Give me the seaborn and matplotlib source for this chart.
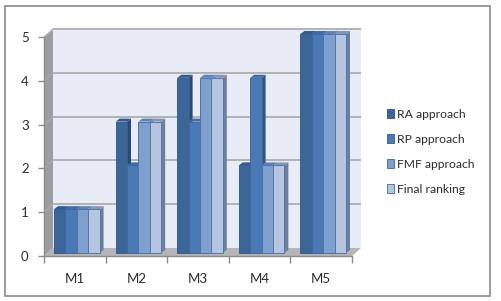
import numpy as np
import pandas as pd
import matplotlib
matplotlib.use("Agg")
import matplotlib.pyplot as plt
import seaborn as sns
from matplotlib.patches import Polygon, Rectangle
from matplotlib.transforms import Affine2D, IdentityTransform

models = ["M1", "M2", "M3", "M4", "M5"]
ra_approach = [1, 3, 4, 2, 5]
rp_approach = [1, 2, 3, 4, 5]
fmf_approach = [1, 3, 4, 2, 5]
final_ranking = [1, 3, 4, 2, 5]
series_names = ["RA approach", "RP approach", "FMF approach", "Final ranking"]

face_colors = ["#3C6698", "#4A7AB6", "#7F9FCE", "#B5C5E0"]
side_colors = ["#2A4A75", "#2F5485", "#50709E", "#6C7F9F"]
top_colors = ["#34598A", "#3F6CA3", "#5F82B5", "#8496B5"]
edge_colors = ["#3A6090", "#41699E", "#4C74A8", "#5279A8"]

df = pd.DataFrame({
    "model": models * 4,
    "series": np.repeat(series_names, 5),
    "value": ra_approach + rp_approach + fmf_approach + final_ranking,
})

sns.set_theme(style="white")
plt.rcParams["font.family"] = ["Lato", "DejaVu Sans"]

W, H = 502, 301
fig = plt.figure(figsize=(W / 100, H / 100), dpi=100, facecolor="white")
ax = fig.add_axes([44 / W, (H - 256) / H, 308 / W, 219 / H])

palette = dict(zip(series_names, face_colors))
sns.barplot(data=df, x="model", y="value", hue="series", order=models,
            hue_order=series_names, palette=palette, width=0.74, gap=0,
            saturation=1, ax=ax, legend=True, zorder=5)
ax.set_xlim(-0.5, 4.5)
ax.set_ylim(0, 5)
ax.set_xlabel("")
ax.set_ylabel("")
ax.set_facecolor("none")
for s in ax.spines.values():
    s.set_visible(False)

# outer frame
fig.add_artist(Rectangle((4.5 / W, (H - 296) / H), 485.5 / W, 290.5 / H,
                         transform=fig.transFigure, fill=False,
                         edgecolor="#8A8A8A", linewidth=1.2))

# 3D box: back wall, side wall, floor
DX, DY = 9, 8
ident = IdentityTransform()
back = ax.transAxes + Affine2D().translate(DX, DY)
ax.add_patch(Rectangle((0, 0), 1, 1, transform=back, facecolor="#E8ECF6",
                       edgecolor="none", zorder=1, clip_on=False))


def disp(x, y):
    return (x, H - y)


ax.add_patch(Polygon([disp(44, 37), disp(53, 30), disp(53, 248), disp(44, 256)],
                     closed=True, transform=ident, facecolor="#9A9EA3",
                     edgecolor="none", zorder=1.2, clip_on=False))
ax.add_patch(Polygon([disp(44, 256), disp(53, 248), disp(361, 248), disp(352, 256)],
                     closed=True, transform=ident, facecolor="#B4B5B7",
                     edgecolor="none", zorder=1.2, clip_on=False))
grid_back = ax.transData + Affine2D().translate(DX, DY)
for v in range(1, 6):
    ax.plot([-0.5, 4.5], [v, v], transform=grid_back, color="#B2B2B2", lw=1.4,
            clip_on=False, zorder=2, solid_capstyle="butt")
    y0 = ax.transData.transform((0, v))[1]
    x0 = ax.transData.transform((-0.5, 0))[0]
    ax.plot([x0, x0 + DX], [y0, y0 + DY], transform=ident, color="#A9ADB2",
            lw=0.9, clip_on=False, zorder=2)
ax.plot([disp(44, 256)[0], disp(44, 37)[0]], [disp(44, 256)[1], disp(44, 37)[1]],
        transform=ident, color="#8A8A8A", lw=1.0, zorder=3, clip_on=False)
ax.plot([disp(44, 256)[0], disp(352, 256)[0]], [disp(44, 256)[1], disp(352, 256)[1]],
        transform=ident, color="#8A8A8A", lw=1.0, zorder=3, clip_on=False)

# 3D bars
OX, OY = 2.0, 3.0
BX, BY = 4.0, 3.0
bar_trans = ax.transData + Affine2D().translate(OX, OY)
bars = [p for c in ax.containers for p in c]
color_of = {}
for i, c in enumerate(ax.containers):
    for p in c:
        color_of[id(p)] = i
bars.sort(key=lambda p: p.get_x())
z = 5
for p in bars:
    i = color_of[id(p)]
    x0 = p.get_x()
    x1 = x0 + p.get_width()
    h = p.get_height()
    a = bar_trans.transform([(x0, 0), (x1, 0), (x1, h), (x0, h)])
    (lx, by), (rx, _), (_, ty), _ = a
    ax.add_patch(Polygon([(rx, by), (rx + BX, by + BY), (rx + BX, ty + BY), (rx, ty)],
                         transform=ident, facecolor=side_colors[i], edgecolor="none",
                         zorder=z, clip_on=False))
    ax.add_patch(Polygon([(lx, ty), (lx + BX, ty + BY), (rx + BX, ty + BY), (rx, ty)],
                         transform=ident, facecolor=top_colors[i], edgecolor="none",
                         zorder=z + 0.1, clip_on=False))
    p.set_transform(bar_trans)
    p.set_clip_on(False)
    p.set_edgecolor(edge_colors[i])
    p.set_linewidth(0.7)
    p.set_zorder(z + 0.2)
    z += 0.3

# axes ticks
ax.set_yticks(range(6))
ax.set_xticks(range(5), models)
ax.set_xticks(np.arange(-0.5, 5), minor=True)
ax.tick_params(axis="y", left=True, length=4, width=1, color="#8A8A8A",
               labelsize=9.5, labelcolor="#2B2B2B", pad=7)
ax.tick_params(axis="x", which="major", bottom=False, length=0, labelsize=9.5,
               labelcolor="#2B2B2B", pad=12)
ax.tick_params(axis="x", which="minor", bottom=True, length=5, width=1,
               color="#8A8A8A")

# legend
handles, labels = ax.get_legend_handles_labels()
ax.get_legend().remove()
leg = fig.legend(handles, labels, loc="upper left",
                 bbox_to_anchor=(387 / W, (H - 108.5) / H), frameon=False,
                 fontsize=8.7, labelcolor="#2B2B2B", handlelength=0.62,
                 handleheight=0.7, handletextpad=0.22, labelspacing=1.17,
                 borderpad=0, borderaxespad=0)
for h_, ec in zip(leg.legend_handles, edge_colors):
    h_.set_edgecolor(ec)
    h_.set_linewidth(0.7)

fig.savefig("out.png", dpi=100, facecolor="white")
